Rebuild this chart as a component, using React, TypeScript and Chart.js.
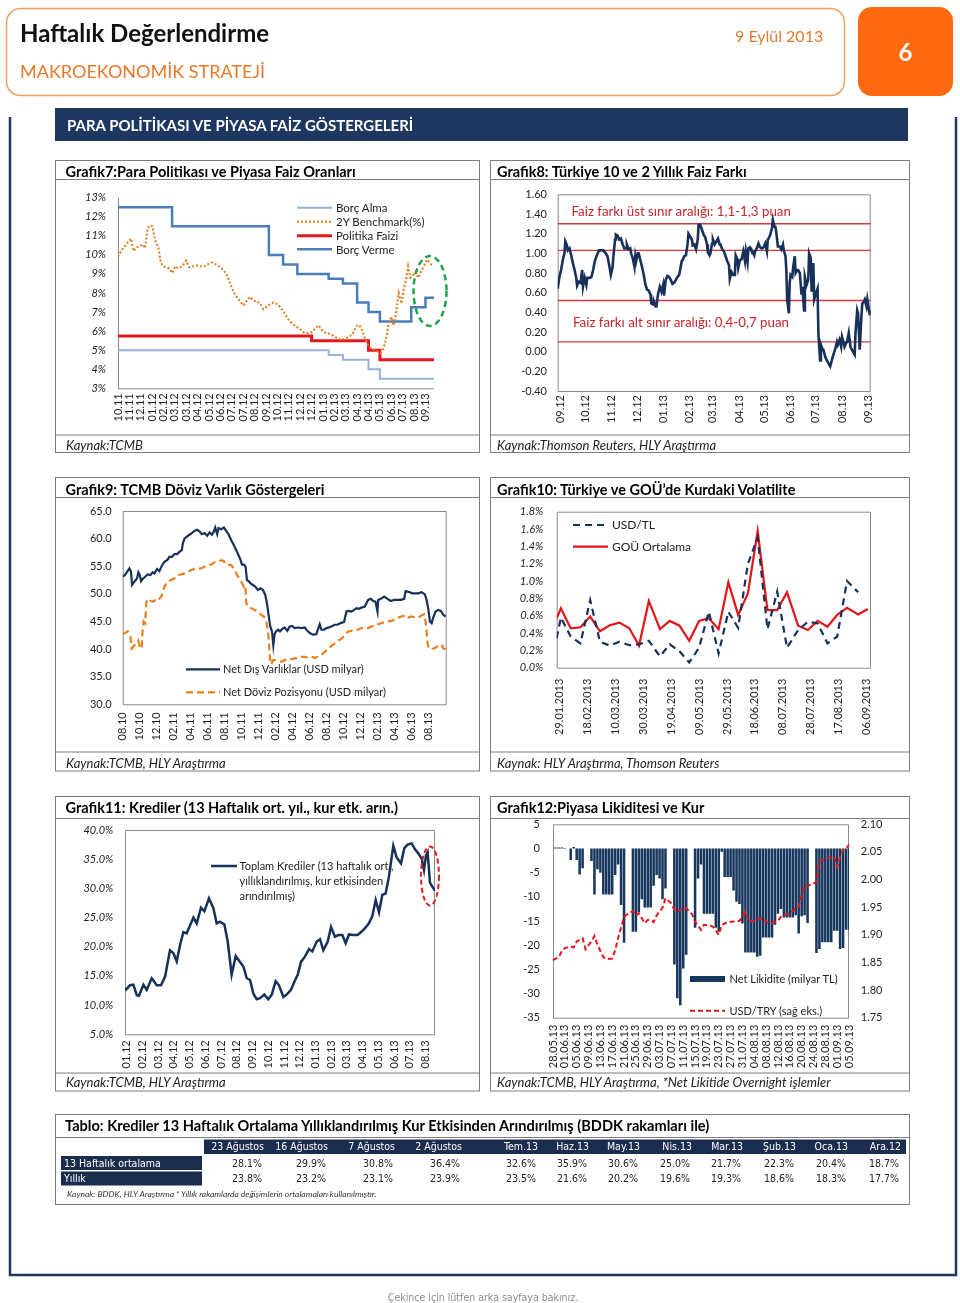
import React, { useEffect, useRef } from 'react';
import { Chart, registerables } from 'chart.js';
Chart.register(...registerables);

const FONT = 'Lato, "Noto Sans", sans-serif';
const NARROW = '"Liberation Sans Narrow", "DejaVu Sans Condensed", "Liberation Sans", sans-serif';
const PW = 960;

// ---------------- Grafik 7 ----------------
const g7Ticks = ['10.11','11.11','12.11','01.12','02.12','03.12','03.12','04.12','05.12','06.12','07.12','07.12','08.12','09.12','10.12','11.12','12.12','12.12','01.13','02.13','03.13','04.13','04.13','05.13','06.13','07.13','08.13','09.13'];
const g7WeeksPerTick = 4;
const g7LastWeek = 111;
const borcVermeWeeks = [0, 19, 53, 58, 63, 74, 79, 84, 88, 92, 103, 108, 111];
const borcVermeRates = [12.5, 11.5, 10, 9.5, 9, 8.75, 8.5, 7.5, 7, 6.5, 7.25, 7.75, 7.75];
const borcAlmaWeeks = [0, 74, 79, 88, 92, 111];
const borcAlmaRates = [5, 4.75, 4.5, 4, 3.5, 3.5];
const politikaWeeks = [0, 68, 88, 92, 111];
const politikaRates = [5.75, 5.5, 5, 4.5, 4.5];
const benchWeeks = [0,0.5,1.3,3.1,4.6,5.4,6.6,7.7,8.6,9.5,10.4,11.3,12.1,13,14.2,15.1,16.5,17.9,19.1,20.1,21.2,22.6,23.9,25,26.5,27.7,28.8,30.3,31.5,33,34.4,35.9,37.1,38.2,39.4,40.6,41.7,42.9,44.1,45.3,46.4,47.6,48.8,49.9,51.1,52.3,53.5,54.6,56.2,57.3,58.7,59.9,61.1,62.5,64,65.5,66.7,68.1,69.3,70.5,71.6,73,74.6,76.3,78.1,79.8,81.6,82.8,83.9,84.8,85.7,86.9,88.1,89.2,90.4,92.2,93.3,94.3,95.1,96,96.8,97.7,98.6,99.6,100.4,101.2,101.9,102.7,103.5,104.5,105.4,106.2,107.4,108.6,109.7,110.6];
const benchRates = [9.9,10.05,10.25,10.6,10.85,10.2,10.4,10.45,10.55,10.35,11.4,11.55,11.5,10.8,10.35,9.55,9.35,9.3,9.05,9.4,9.3,9.4,9.7,9.35,9.4,9.45,9.4,9.4,9.5,9.6,9.5,9.35,9.2,8.95,8.5,8.05,7.8,7.55,7.35,7.6,7.8,7.6,7.55,7.45,7.15,7.3,7.4,7.5,7.4,7.2,6.9,6.6,6.4,6.25,6.1,5.9,5.9,5.95,6.15,6.3,6.05,5.9,5.85,5.7,5.55,5.6,5.75,5.95,6.3,6.3,6.05,5.55,5.2,5.05,5.0,4.85,5.1,5.7,6.4,6.75,6.3,6.95,8.0,7.45,8.25,8.7,9.4,8.8,8.9,9.1,8.8,9.05,9.4,9.75,9.55,9.4];

// ---------------- Grafik 8 ----------------
const g8Ticks = ['09.12','10.12','11.12','12.12','01.13','02.13','03.13','04.13','05.13','06.13','07.13','08.13','09.13'];
const g8TickDays = [0, 30, 61, 91, 122, 153, 181, 212, 242, 273, 303, 334, 365];
const g8Bands = [1.30, 1.03, 0.52, 0.10];
const g8Spread: [number, number][] = [[-3,0.64],[-1,0.76],[1,0.83],[3,0.93],[5,1.0],[6,1.12],[8,1.08],[9,1.03],[11,1.05],[13,0.98],[15,0.9],[17,0.83],[19,0.75],[20,0.67],[22,0.71],[24,0.7],[26,0.83],[27,0.66],[29,0.75],[31,0.68],[32,0.75],[35,0.75],[37,0.76],[39,0.83],[41,0.92],[43,0.97],[46,1.03],[49,1.03],[51,1.03],[54,1.0],[56,0.97],[58,0.88],[60,0.78],[62,0.86],[63,0.97],[65,1.14],[66,1.19],[68,1.18],[70,1.14],[72,1.15],[74,1.09],[76,1.05],[78,1.05],[79,1.09],[81,1.04],[83,1.05],[84,1.0],[86,0.95],[88,0.86],[89,0.97],[90,0.92],[92,1.0],[93,1.0],[95,0.93],[97,0.86],[99,0.78],[101,0.68],[103,0.63],[105,0.62],[107,0.58],[108,0.49],[110,0.48],[111,0.51],[113,0.46],[114,0.46],[116,0.59],[118,0.66],[120,0.61],[122,0.68],[123,0.57],[125,0.73],[127,0.77],[129,0.76],[131,0.73],[133,0.69],[135,0.7],[137,0.73],[139,0.76],[141,0.78],[144,0.92],[145,0.93],[147,0.97],[149,0.98],[151,1.1],[152,1.2],[154,1.17],[156,1.14],[157,1.08],[159,1.09],[161,1.04],[163,1.14],[164,1.29],[166,1.29],[168,1.24],[170,1.19],[172,1.16],[174,1.09],[175,1.01],[177,0.98],[178,1.0],[180,1.1],[181,1.14],[183,1.09],[185,1.12],[187,1.15],[189,1.09],[190,1.09],[192,1.04],[194,1.02],[196,0.97],[198,0.92],[200,0.88],[201,0.74],[203,0.81],[205,0.78],[207,0.78],[208,0.98],[210,0.94],[211,0.85],[213,0.93],[215,0.94],[217,1.02],[219,0.92],[220,1.02],[222,0.91],[223,1.05],[225,1.06],[226,1.04],[228,1.02],[230,0.98],[231,1.02],[233,1.05],[235,1.1],[237,1.06],[239,1.05],[241,1.06],[243,1.1],[245,1.02],[246,1.14],[247,1.15],[249,1.19],[251,1.26],[252,1.34],[254,1.27],[255,1.27],[256,1.22],[258,1.07],[260,1.07],[262,1.04],[264,1.09],[265,1.03],[267,0.97],[268,0.83],[269,0.53],[271,0.39],[272,0.7],[273,0.78],[275,0.76],[276,0.85],[278,0.97],[279,0.8],[281,0.83],[282,0.83],[284,0.8],[286,0.58],[287,0.66],[289,0.42],[290,0.76],[292,0.68],[294,0.73],[295,1.0],[297,0.95],[298,0.61],[300,0.9],[301,0.53],[303,0.59],[305,0.64],[306,0.19],[308,-0.09],[309,0.07],[311,0.02],[312,0.02],[314,-0.05],[316,-0.09],[318,-0.12],[320,-0.15],[321,-0.12],[323,-0.05],[325,0.0],[326,0.03],[328,0.1],[329,0.07],[331,0.12],[333,0.05],[334,0.15],[336,0.09],[337,0.05],[339,0.09],[340,0.1],[342,0.19],[344,0.05],[345,0.03],[347,0.0],[349,-0.03],[350,0.19],[352,0.42],[353,0.39],[355,0.02],[357,0.36],[358,0.49],[360,0.51],[361,0.53],[363,0.46],[364,0.53],[366,0.42],[367,0.37]];

// ---------------- Grafik 9 ----------------
const g9Ticks = ['08.10','10.10','12.10','02.11','04.11','06.11','08.11','10.11','12.11','02.12','04.12','06.12','08.12','10.12','12.12','02.13','04.13','06.13','08.13'];
const g9MonthsPerTick = 2;
const netDisVarlik: [number, number][] = [[0,53.1],[0.28,53.4],[0.51,54.0],[0.79,54.6],[0.98,54.0],[1.10,51.6],[1.38,52.2],[1.69,52.8],[1.85,53.9],[2.01,53.4],[2.17,52.3],[2.36,52.7],[2.64,53.1],[2.95,53.5],[3.27,53.4],[3.54,53.9],[3.74,53.7],[4.06,54.5],[4.33,54.1],[4.61,55.1],[4.92,55.8],[5.24,56.1],[5.51,56.7],[5.79,56.7],[6.10,57.2],[6.42,57.2],[6.69,57.6],[6.97,57.9],[7.09,59.1],[7.28,60.0],[7.60,60.4],[7.87,60.7],[8.15,61.0],[8.46,61.4],[8.78,61.6],[9.06,61.3],[9.33,60.8],[9.65,61.0],[9.96,60.5],[10.24,61.1],[10.51,60.7],[10.75,61.3],[10.91,62.0],[11.14,60.8],[11.30,61.9],[11.61,61.7],[11.93,62.0],[12.20,61.4],[12.48,60.8],[12.80,59.7],[13.11,58.8],[13.39,57.9],[13.66,57.0],[13.90,56.1],[14.06,55.3],[14.29,55.3],[14.49,54.9],[14.65,52.5],[14.84,52.3],[15.08,51.9],[15.35,51.6],[15.63,51.3],[15.94,50.7],[16.26,51.0],[16.54,50.7],[16.81,49.8],[17.01,48.3],[17.20,46.2],[17.40,44.1],[17.60,43.2],[17.76,40.7],[17.91,42.7],[18.07,43.2],[18.31,43.5],[18.54,43.2],[18.78,43.6],[19.09,43.9],[19.41,43.3],[19.69,44.1],[19.96,44.2],[20.28,43.8],[20.67,43.9],[21.06,43.8],[21.46,43.9],[21.77,43.3],[22.05,42.9],[22.44,42.6],[22.83,42.7],[23.23,44.5],[23.43,43.5],[23.74,43.5],[24.02,43.8],[24.29,43.9],[24.61,44.1],[25.0,44.4],[25.31,44.4],[25.71,44.7],[26.10,44.9],[26.38,46.8],[26.65,46.9],[26.97,46.8],[27.28,47.1],[27.56,47.4],[27.83,47.3],[28.15,47.5],[28.54,47.7],[28.94,48.9],[29.25,49.1],[29.53,48.7],[29.80,48.6],[30.04,46.8],[30.12,48.9],[30.43,49.1],[30.83,49.5],[31.22,49.1],[31.61,48.7],[32.01,48.9],[32.40,48.9],[32.80,48.9],[33.19,49.1],[33.35,50.5],[33.58,50.4],[33.86,50.3],[34.13,50.1],[34.45,50.1],[34.84,50.1],[35.24,50.3],[35.63,49.9],[35.83,48.9],[36.02,47.4],[36.22,45.0],[36.42,44.7],[36.61,45.7],[36.89,46.8],[37.20,47.1],[37.52,46.9],[37.80,46.2],[38.07,45.9]];
const netDovizPoz: [number, number][] = [[0,42.7],[0.28,42.9],[0.59,43.2],[0.91,42.2],[1.06,40.1],[1.38,40.7],[1.69,41.0],[1.85,41.5],[2.01,40.4],[2.24,40.1],[2.36,43.8],[2.48,45.0],[2.64,44.7],[2.80,48.6],[3.03,49.1],[3.35,48.7],[3.66,48.6],[3.94,49.1],[4.21,48.9],[4.53,49.5],[4.72,50.1],[4.92,51.3],[5.31,52.3],[5.71,52.5],[6.10,52.8],[6.50,53.4],[6.89,53.5],[7.28,53.7],[7.68,54.0],[8.07,54.3],[8.46,54.5],[8.86,54.6],[9.25,54.6],[9.65,54.9],[10.04,55.2],[10.43,55.3],[10.83,55.7],[11.22,55.8],[11.61,56.1],[11.93,55.9],[12.20,55.3],[12.48,55.3],[12.80,55.2],[13.19,54.3],[13.50,53.4],[13.78,52.7],[13.98,52.2],[14.17,51.6],[14.29,51.3],[14.45,51.6],[14.57,48.3],[14.76,47.7],[15.16,47.4],[15.55,47.1],[15.94,46.7],[16.34,46.2],[16.65,45.9],[16.93,45.0],[17.13,43.2],[17.24,41.3],[17.36,38.3],[17.52,37.2],[17.72,38.0],[17.91,38.0],[18.31,37.8],[18.70,37.7],[19.09,38.0],[19.49,38.2],[19.88,38.2],[20.28,38.3],[20.67,38.4],[21.06,38.6],[21.46,38.6],[21.85,38.4],[22.24,38.6],[22.64,38.4],[23.03,38.6],[23.43,38.9],[23.82,39.5],[24.21,40.0],[24.61,40.6],[25.0,41.0],[25.39,41.5],[25.79,41.9],[26.18,42.5],[26.57,43.2],[26.97,43.3],[27.36,43.5],[27.76,43.5],[28.15,43.8],[28.54,43.8],[28.94,43.8],[29.33,44.1],[29.72,44.2],[30.12,44.5],[30.51,44.7],[30.91,44.9],[31.30,45.0],[31.69,45.1],[32.09,45.4],[32.48,45.7],[32.87,45.9],[33.27,46.1],[33.66,45.7],[34.06,45.9],[34.45,45.7],[34.84,45.7],[35.24,46.1],[35.55,46.3],[35.71,45.0],[35.83,43.3],[35.94,41.0],[36.10,40.1],[36.42,40.0],[36.81,40.2],[37.20,40.6],[37.60,40.8],[37.80,40.1],[38.07,40.0]];

// ---------------- Grafik 10 ----------------
const g10Ticks = ['29.01.2013','18.02.2013','10.03.2013','30.03.2013','19.04.2013','09.05.2013','29.05.2013','18.06.2013','08.07.2013','28.07.2013','17.08.2013','06.09.2013'];
const g10DaysPerTick = 20;
const volDays = [-2,1,8,15,22,29,36,43,50,57,64,72,79,86,93,100,107,114,121,128,135,142,149,156,163,171,178,185,192,199,206,214,221];
const gouVol = [0.57,0.685,0.455,0.466,0.59,0.42,0.49,0.52,0.455,0.255,0.77,0.445,0.54,0.485,0.31,0.54,0.57,0.445,0.985,0.61,0.857,1.577,0.665,0.665,0.87,0.485,0.435,0.54,0.473,0.61,0.69,0.615,0.677];
const usdTlVol = [0.34,0.58,0.36,0.28,0.78,0.30,0.255,0.30,0.26,0.27,0.31,0.13,0.27,0.19,0.06,0.23,0.645,0.165,0.645,0.46,1.2,1.5,0.445,0.877,0.23,0.435,0.53,0.51,0.28,0.36,1.0,0.87,null];

// ---------------- Grafik 11 ----------------
const g11Ticks = ['01.12','02.12','03.12','04.12','05.12','06.12','07.12','08.12','09.12','10.12','11.12','12.12','01.13','02.13','03.13','04.13','05.13','06.13','07.13','08.13'];
const krediler: [number, number][] = [[-0.11,12.5],[0.21,13.4],[0.42,13.5],[0.64,11.7],[0.78,11.6],[1.06,13.5],[1.27,12.6],[1.59,14.6],[1.91,13.4],[2.18,13.4],[2.44,14.9],[2.75,19.4],[2.97,18.9],[3.18,17.5],[3.39,20.3],[3.60,22.5],[3.81,22.3],[4.03,23.7],[4.24,25.0],[4.45,24.0],[4.72,26.7],[4.94,26.1],[5.23,28.3],[5.51,26.6],[5.72,24.0],[5.93,24.3],[6.21,23.8],[6.42,20.9],[6.67,15.2],[6.93,18.4],[7.20,17.4],[7.42,16.6],[7.63,14.6],[7.84,14.3],[8.05,12.0],[8.26,11.0],[8.47,11.2],[8.75,11.8],[9.00,11.0],[9.22,11.8],[9.47,14.1],[9.68,13.4],[9.96,11.4],[10.17,11.8],[10.44,12.6],[10.66,14.0],[10.87,15.2],[11.08,17.4],[11.33,18.3],[11.59,19.6],[11.80,19.2],[12.08,20.9],[12.29,21.3],[12.50,19.4],[12.78,20.9],[12.99,23.4],[13.24,21.7],[13.45,22.0],[13.71,22.0],[13.92,20.6],[14.13,22.1],[14.41,22.0],[14.68,22.0],[14.94,22.6],[15.19,23.3],[15.40,24.0],[15.61,25.2],[15.83,28.0],[16.04,25.9],[16.25,28.9],[16.46,29.1],[16.67,32.0],[16.95,37.3],[17.16,35.3],[17.44,34.3],[17.65,36.9],[17.86,37.5],[18.11,37.7],[18.33,36.7],[18.54,36.0],[18.75,35.1],[18.90,33.1],[19.03,35.7],[19.13,36.2],[19.28,31.0],[19.43,30.3],[19.60,29.6]];

// ---------------- Grafik 12 ----------------
const g12Ticks = ['28.05.13','01.06.13','05.06.13','09.06.13','13.06.13','17.06.13','21.06.13','25.06.13','29.06.13','03.07.13','07.07.13','11.07.13','15.07.13','19.07.13','23.07.13','27.07.13','31.07.13','04.08.13','08.08.13','12.08.13','16.08.13','20.08.13','24.08.13','28.08.13','01.09.13','05.09.13'];
const g12DaysPerTick = 4;
const netLikidite = [0.2,0.2,0.2,0.2,0.1,0,-2.4,0.3,-2.4,-5.4,-4.1,0,0,-2.6,-9.5,-4.3,-5.0,-9.5,-9.5,-9.5,-9.5,-5.5,-3.3,-11.7,-19.5,0,0,-17.2,-17.2,-13.2,-10.5,-12.2,-12.2,-12.2,-7.7,-5.5,-6.2,-10.5,-8.3,0,0,-24,-31,-32.4,-24.8,-22,0,0,-16.4,-6.2,-3.3,-13.5,-13.5,-13.5,-13.5,-16.4,-17.2,-0.7,-5.9,-5.9,-5.9,-8.7,-11,-11.5,-15.5,-21.5,-21.5,-21.5,-21.5,-22.4,-22.2,-18.4,-18.4,-18.4,-18.4,-15.8,-13.5,-12.5,-14.3,-14.3,-14.3,-14.3,-13.8,-17.6,-14,-13.8,-15.4,0,0,-21.6,-20.8,-19.4,-19.4,-19.4,-19.4,-17,-17,-20.8,-20.6,-16.8,-16.8];
const usdTryDays = [0,2,3,4,6,7,8,10,11,13,14,15,17,18,20,21,22,24,25,27,28,29,31,32,33,34,35,36,37,38,40,41,42,44,45,47,48,50,51,53,54,56,57,59,61,62,63,65,66,68,69,71,72,73,74,76,77,79,81,82,83,84,85,87,89,90,92,94,95,96,97,98,99,100];
const usdTry = [1.854,1.860,1.871,1.876,1.879,1.877,1.888,1.894,1.874,1.888,1.898,1.882,1.860,1.856,1.857,1.872,1.894,1.933,1.937,1.943,1.935,1.939,1.921,1.927,1.927,1.923,1.935,1.942,1.949,1.966,1.957,1.945,1.942,1.949,1.948,1.937,1.924,1.909,1.918,1.917,1.915,1.900,1.918,1.923,1.924,1.925,1.925,1.942,1.925,1.925,1.927,1.930,1.924,1.921,1.921,1.925,1.933,1.937,1.943,1.949,1.951,1.972,1.989,1.990,1.996,2.032,2.038,2.040,2.041,2.023,2.041,2.053,2.056,2.063];

// ---------------- Table ----------------
const tableCols = ['23 Ağustos','16 Ağustos','7 Ağustos','2 Ağustos','Tem.13','Haz.13','May.13','Nis.13','Mar.13','Şub.13','Oca.13','Ara.12'];
const row13Haftalik = ['28.1%','29.9%','30.8%','36.4%','32.6%','35.9%','30.6%','25.0%','21.7%','22.3%','20.4%','18.7%'];
const rowYillik = ['23.8%','23.2%','23.1%','23.9%','23.5%','21.6%','20.2%','19.6%','19.3%','18.6%','18.3%','17.7%'];

// ---------------- helpers ----------------
const zipXY = (xs: number[], ys: (number | null)[]) => xs.map((x, i) => ({ x, y: ys[i] }));
const pairsXY = (p: [number, number][]) => p.map(([x, y]) => ({ x, y }));

const framePlugin = {
  id: 'frame',
  beforeDatasetsDraw(chart: any, _a: any, opts: any) {
    const { ctx, chartArea: a } = chart;
    ctx.save();
    ctx.strokeStyle = opts.color || '#8a8a8a';
    ctx.lineWidth = 1;
    ctx.beginPath();
    if (opts.mode === 'lb') {
      ctx.moveTo(a.left + 0.5, a.top);
      ctx.lineTo(a.left + 0.5, a.bottom + 0.5);
      ctx.lineTo(a.right, a.bottom + 0.5);
    } else {
      ctx.rect(a.left + 0.5, a.top + 0.5, a.right - a.left - 1, a.bottom - a.top);
    }
    ctx.stroke();
    ctx.restore();
  },
};

const TICK_COLOR = '#1e1e1e';

function linX(min: number, max: number, ticks: number[], labels: string[], pad: number) {
  return {
    type: 'linear', min, max,
    grid: { display: false, drawTicks: false }, border: { display: false },
    afterBuildTicks: (s: any) => { s.ticks = ticks.map((v) => ({ value: v })); },
    ticks: { autoSkip: false, minRotation: 90, maxRotation: 90, padding: pad, color: TICK_COLOR, font: { family: FONT, size: 11 }, callback: (_v: any, i: number) => labels[i] },
  };
}

function linY(min: number, max: number, step: number, pad: number, fmt: (v: number) => string, italic = false, position = 'left') {
  return {
    type: 'linear', position, min, max,
    grid: { display: false, drawTicks: false }, border: { display: false },
    ticks: { stepSize: step, autoSkip: false, padding: pad, color: TICK_COLOR, font: { family: FONT, size: 11, style: italic ? 'italic' : 'normal' }, callback: (v: number) => fmt(v) },
  };
}

function baseOptions(o: { w: number; h: number; l: number; t: number; r: number; b: number; x: any; y: any; y2?: any; frame: string }) {
  const scales: any = {
    x: { ...o.x, afterFit: (s: any) => { s.height = o.h - o.b; s.paddingLeft = 0; s.paddingRight = 0; } },
    y: { ...o.y, afterFit: (s: any) => { s.width = o.l; s.paddingTop = 0; s.paddingBottom = 0; } },
  };
  if (o.y2) scales.y2 = { ...o.y2, afterFit: (s: any) => { s.width = o.w - o.r; s.paddingTop = 0; s.paddingBottom = 0; } };
  return {
    responsive: false, animation: false, devicePixelRatio: 1,
    layout: { padding: { left: 0, top: o.t, right: o.y2 ? 0 : o.w - o.r, bottom: 0 } },
    plugins: { legend: { display: false }, tooltip: { enabled: false }, frame: { mode: o.frame } },
    elements: { point: { radius: 0 }, line: { tension: 0 } },
    scales,
  };
}

const line = (data: any, color: string, width: number, extra: any = {}) => ({ type: 'line', data, borderColor: color, backgroundColor: color, borderWidth: width, pointRadius: 0, fill: false, ...extra });

// ---------------- chart configs ----------------
function cfg7(w: number, h: number) {
  const tickVals = g7Ticks.map((_, i) => i * g7WeeksPerTick);
  return {
    type: 'line',
    data: { datasets: [
      line(zipXY(benchWeeks, benchRates), '#E07B1F', 2, { borderDash: [2, 2] }),
      line(zipXY(borcVermeWeeks, borcVermeRates), '#4A7EBB', 2.5, { stepped: true }),
      line(zipXY(politikaWeeks, politikaRates), '#E3181C', 3, { stepped: true }),
      line(zipXY(borcAlmaWeeks, borcAlmaRates), '#95B3D7', 2, { stepped: true }),
    ] },
    options: baseOptions({ w, h, l: 62, t: 16.7, r: w - 45, b: h - 45.7, frame: 'lb',
      x: linX(0, g7LastWeek, tickVals, g7Ticks, 5),
      y: linY(3, 13, 1, 12, (v) => v.toFixed(0) + '%', true) }),
    plugins: [framePlugin],
  };
}

function cfg8(w: number, h: number) {
  const xMin = -3, xMax = 368;
  return {
    type: 'line',
    data: { datasets: [
      line(pairsXY(g8Spread), '#17315A', 2.6),
      ...g8Bands.map((v) => line([{ x: xMin, y: v }, { x: xMax, y: v }], '#D9363E', 1.4)),
    ] },
    options: baseOptions({ w, h, l: 66.7, t: 13.3, r: w - 38.3, b: h - 43, frame: 'box',
      x: linX(xMin, xMax, g8TickDays, g8Ticks, 4),
      y: linY(-0.4, 1.6, 0.2, 10.7, (v) => v.toFixed(2)) }),
    plugins: [framePlugin],
  };
}

function cfg9(w: number, h: number) {
  const tickVals = g9Ticks.map((_, i) => i * g9MonthsPerTick);
  return {
    type: 'line',
    data: { datasets: [
      line(pairsXY(netDisVarlik), '#17315A', 2.2),
      line(pairsXY(netDovizPoz), '#E8801E', 2.2, { borderDash: [7, 4] }),
    ] },
    options: baseOptions({ w, h, l: 66.7, t: 12, r: w - 32.3, b: h - 46.7, frame: 'box',
      x: linX(0, 38.2, tickVals, g9Ticks, 8),
      y: linY(30, 65, 5, 11, (v) => v.toFixed(1)) }),
    plugins: [framePlugin],
  };
}

function cfg10(w: number, h: number) {
  const tickVals = g10Ticks.map((_, i) => i * g10DaysPerTick);
  return {
    type: 'line',
    data: { datasets: [
      line(zipXY(volDays, usdTlVol), '#17315A', 2.2, { borderDash: [7, 5] }),
      line(zipXY(volDays, gouVol), '#E3151A', 2.2),
    ] },
    options: baseOptions({ w, h, l: 65.7, t: 12.7, r: w - 38, b: h - 84.3, frame: 'box',
      x: linX(-2, 223.2, tickVals, g10Ticks, 11),
      y: linY(0, 1.8, 0.2, 13.4, (v) => v.toFixed(1) + '%', true) }),
    plugins: [framePlugin],
  };
}

function cfg11(w: number, h: number) {
  const tickVals = g11Ticks.map((_, i) => i);
  return {
    type: 'line',
    data: { datasets: [ line(pairsXY(krediler), '#17315A', 2.5) ] },
    options: baseOptions({ w, h, l: 69, t: 10, r: w - 44, b: h - 37.7, frame: 'box',
      x: linX(-0.11, 19.6, tickVals, g11Ticks, 6),
      y: linY(5, 40, 5, 11.7, (v) => v.toFixed(1) + '%', true) }),
    plugins: [framePlugin],
  };
}

function cfg12(w: number, h: number) {
  const days = netLikidite.map((_, i) => i);
  const usd: (number | null)[] = days.map(() => null);
  usdTryDays.forEach((d, i) => { usd[d] = usdTry[i]; });
  return {
    type: 'bar',
    data: {
      labels: days,
      datasets: [
        { type: 'line', data: usd, yAxisID: 'y2', borderColor: '#E8141B', borderWidth: 2, borderDash: [5, 3], pointRadius: 0, spanGaps: true, order: 0, fill: false },
        { type: 'bar', data: netLikidite, yAxisID: 'y', backgroundColor: '#17375E', borderWidth: 0, categoryPercentage: 1, barPercentage: 0.86, order: 1 },
      ],
    },
    options: baseOptions({ w, h, l: 62, t: 6.3, r: w - 60, b: h - 54.3, frame: 'box',
      x: { type: 'category', offset: false, grid: { display: false, drawTicks: false }, border: { display: false },
        ticks: { autoSkip: false, minRotation: 90, maxRotation: 90, padding: 7, color: TICK_COLOR, font: { family: FONT, size: 11 },
          callback: (_v: any, i: number) => (i % g12DaysPerTick === 0 ? g12Ticks[i / g12DaysPerTick] : '') } },
      y: linY(-35, 5, 5, 13, (v) => v.toFixed(0)),
      y2: linY(1.75, 2.10, 0.05, 11.7, (v) => v.toFixed(2), false, 'right') }),
    plugins: [framePlugin],
  };
}

// ---------------- components ----------------
function ChartCanvas({ x, y, w, h, make }: { x: number; y: number; w: number; h: number; make: (w: number, h: number) => any }) {
  const ref = useRef<HTMLCanvasElement>(null);
  useEffect(() => {
    const chart = new Chart(ref.current as HTMLCanvasElement, make(w, h));
    return () => chart.destroy();
  }, []);
  return <canvas ref={ref} width={w} height={h} style={{ position: 'absolute', left: x, top: y, width: w, height: h }} />;
}

function Txt({ x, y, children, size = 12, weight = 400, italic = false, color = '#000', family = FONT, align = 'left' }: any) {
  const st: any = { position: 'absolute', top: y - size, height: size * 2, lineHeight: `${size * 2}px`, fontSize: size, fontWeight: weight, fontStyle: italic ? 'italic' : 'normal', color, fontFamily: family, whiteSpace: 'nowrap' };
  if (align === 'left') st.left = x;
  else if (align === 'right') st.right = PW - x;
  else { st.left = x - 300; st.width = 600; st.textAlign = 'center'; }
  return <div style={st}>{children}</div>;
}

const panels = [
  { x0: 55.5, x1: 479.5, y0: 160.5, u: 179.5, k: 435, y1: 452.5 },
  { x0: 490.5, x1: 909.5, y0: 160.5, u: 179.5, k: 435, y1: 452.5 },
  { x0: 55.5, x1: 479.5, y0: 477.5, u: 497.5, k: 752, y1: 771 },
  { x0: 490.5, x1: 909.5, y0: 477.5, u: 497.5, k: 752, y1: 771 },
  { x0: 55.5, x1: 479.5, y0: 796.5, u: 818.5, k: 1073, y1: 1091 },
  { x0: 490.5, x1: 909.5, y0: 796.5, u: 818.5, k: 1073, y1: 1091 },
];

const colRight = [262, 326, 393, 460, 536, 587, 638, 690, 741, 794, 846, 899];

export default function App() {
  const navy = '#1D3761';
  const orange = '#E8792B';
  const grayLine = '#7d7d7d';
  return (
    <div style={{ position: 'absolute', left: 0, top: 0, width: 960, height: 1303, background: '#fff', overflow: 'hidden' }}>
      <svg width={960} height={1303} style={{ position: 'absolute', left: 0, top: 0 }}>
        <rect x={6.5} y={8.5} width={838} height={87} rx={14} fill="#fff" stroke="#F0A062" strokeWidth={1.5} />
        <rect x={858} y={7} width={95} height={89} rx={14} fill="#FF6A10" />
        <rect x={55} y={108} width={853} height={33} fill={navy} />
        <line x1={10} y1={117} x2={10} y2={1276} stroke={navy} strokeWidth={2.5} />
        <line x1={956} y1={117} x2={956} y2={1276} stroke={navy} strokeWidth={2.5} />
        <line x1={9} y1={1275} x2={957} y2={1275} stroke={navy} strokeWidth={2.5} />
        {panels.map((p, i) => (
          <g key={i} stroke={grayLine} strokeWidth={1} fill="none">
            <rect x={p.x0} y={p.y0} width={p.x1 - p.x0} height={p.y1 - p.y0} />
            <line x1={p.x0} y1={p.u} x2={p.x1} y2={p.u} />
            <line x1={p.x0} y1={p.k} x2={p.x1} y2={p.k} />
          </g>
        ))}
        {/* table */}
        <rect x={55.5} y={1114.5} width={854} height={90} fill="none" stroke={grayLine} strokeWidth={1} />
        <line x1={55.5} y1={1137.5} x2={909.5} y2={1137.5} stroke={grayLine} strokeWidth={1} />
        <rect x={204} y={1139.5} width={702} height={14.5} fill="#1B2D4F" />
        <rect x={61} y={1156} width={141} height={14} fill="#1B2D4F" />
        <rect x={61} y={1171.5} width={141} height={14} fill="#1B2D4F" />
      </svg>

      <ChartCanvas x={56} y={181} w={423} h={253} make={cfg7} />
      <ChartCanvas x={491} y={181} w={418} h={253} make={cfg8} />
      <ChartCanvas x={56} y={499} w={423} h={252} make={cfg9} />
      <ChartCanvas x={491} y={499} w={418} h={253} make={cfg10} />
      <ChartCanvas x={56} y={820} w={423} h={252} make={cfg11} />
      <ChartCanvas x={491} y={818} w={418} h={254} make={cfg12} />

      <svg width={960} height={1303} style={{ position: 'absolute', left: 0, top: 0, pointerEvents: 'none' }}>
        {/* Grafik7 legend */}
        <line x1={297} y1={207.7} x2={332} y2={207.7} stroke="#95B3D7" strokeWidth={2} />
        <line x1={297} y1={221.7} x2={332} y2={221.7} stroke="#E07B1F" strokeWidth={2} strokeDasharray="2 2" />
        <line x1={297} y1={235.7} x2={332} y2={235.7} stroke="#E3181C" strokeWidth={3} />
        <line x1={297} y1={249.3} x2={332} y2={249.3} stroke="#4A7EBB" strokeWidth={2.5} />
        <ellipse cx={430} cy={291} rx={16.5} ry={35} fill="none" stroke="#1FA24A" strokeWidth={2.5} strokeDasharray="6 4" />
        {/* Grafik9 legend */}
        <line x1={186} y1={669.3} x2={220} y2={669.3} stroke="#17315A" strokeWidth={2.2} />
        <line x1={186} y1={692.3} x2={220} y2={692.3} stroke="#E8801E" strokeWidth={2.2} strokeDasharray="7 4" />
        {/* Grafik10 legend */}
        <line x1={573} y1={525} x2={608} y2={525} stroke="#17315A" strokeWidth={2.2} strokeDasharray="7 5" />
        <line x1={573} y1={546.7} x2={608} y2={546.7} stroke="#E3151A" strokeWidth={2.2} />
        {/* Grafik11 legend */}
        <line x1={211} y1={866} x2={237} y2={866} stroke="#17315A" strokeWidth={2.5} />
        <ellipse cx={430} cy={876} rx={9} ry={29.5} fill="none" stroke="#E02020" strokeWidth={2} strokeDasharray="5 3" />
        {/* Grafik12 legend */}
        <rect x={690} y={976} width={35} height={6} fill="#17375E" />
        <line x1={690} y1={1010.7} x2={725} y2={1010.7} stroke="#E8141B" strokeWidth={2} strokeDasharray="5 3" />
      </svg>

      {/* header */}
      <Txt x={20} y={33} size={24} weight={700} color="#111">Haftalık Değerlendirme</Txt>
      <Txt x={20} y={71} size={18} color={orange}>MAKROEKONOMİK STRATEJİ</Txt>
      <Txt x={735} y={36} size={16} color={orange}>9 Eylül 2013</Txt>
      <Txt x={905.5} y={52} size={24} weight={700} color="#fff" align="center">6</Txt>
      <Txt x={67} y={124.5} size={15} weight={700} color="#fff">PARA POLİTİKASI VE PİYASA FAİZ GÖSTERGELERİ</Txt>

      {/* titles */}
      <Txt x={65.5} y={171} size={14.5} weight={700}>Grafik7:Para Politikası ve Piyasa Faiz Oranları</Txt>
      <Txt x={497} y={171} size={14.5} weight={700}>Grafik8: Türkiye 10 ve 2 Yıllık Faiz Farkı</Txt>
      <Txt x={65.5} y={489} size={14.5} weight={700}>Grafik9: TCMB Döviz Varlık Göstergeleri</Txt>
      <Txt x={497} y={489} size={14.5} weight={700}>Grafik10: Türkiye ve GOÜ’de Kurdaki Volatilite</Txt>
      <Txt x={65.5} y={807} size={14.5} weight={700}>Grafik11: Krediler (13 Haftalık ort. yıl., kur etk. arın.)</Txt>
      <Txt x={497} y={807} size={14.5} weight={700}>Grafik12:Piyasa Likiditesi ve Kur</Txt>

      {/* sources */}
      <Txt x={66} y={445} size={13} italic color="#222">Kaynak:TCMB</Txt>
      <Txt x={497} y={445} size={13} italic color="#222">Kaynak:Thomson Reuters, HLY Araştırma</Txt>
      <Txt x={66} y={762.5} size={13} italic color="#222">Kaynak:TCMB, HLY Araştırma</Txt>
      <Txt x={497} y={762.5} size={13} italic color="#222">Kaynak: HLY Araştırma, Thomson Reuters</Txt>
      <Txt x={66} y={1081.5} size={13} italic color="#222">Kaynak:TCMB, HLY Araştırma</Txt>
      <Txt x={497} y={1081.5} size={13} italic color="#222">Kaynak:TCMB, HLY Araştırma, *Net Likitide Overnight işlemler</Txt>

      {/* legends & annotations */}
      <Txt x={336} y={207.7} size={11.5} color="#222">Borç Alma</Txt>
      <Txt x={336} y={221.7} size={11.5} color="#222">2Y Benchmark(%)</Txt>
      <Txt x={336} y={235.7} size={11.5} color="#222">Politika Faizi</Txt>
      <Txt x={336} y={249.3} size={11.5} color="#222">Borç Verme</Txt>

      <Txt x={571.5} y={211.7} size={13.3} color="#C8242C">Faiz farkı üst sınır aralığı: 1,1-1,3 puan</Txt>
      <Txt x={573} y={322.7} size={13.3} color="#C8242C">Faiz farkı alt sınır aralığı: 0,4-0,7 puan</Txt>

      <Txt x={223} y={669.3} size={11} color="#222">Net Dış Varlıklar (USD milyar)</Txt>
      <Txt x={223} y={692.3} size={11} color="#222">Net Döviz Pozisyonu (USD milyar)</Txt>

      <Txt x={612} y={525} size={12} color="#222">USD/TL</Txt>
      <Txt x={612} y={546.7} size={12} color="#222">GOÜ Ortalama</Txt>

      <Txt x={239.5} y={866} size={11} color="#222">Toplam Krediler (13 haftalık ort.,</Txt>
      <Txt x={239.5} y={881} size={11} color="#222">yıllıklandırılmış, kur etkisinden</Txt>
      <Txt x={239.5} y={895.5} size={11} color="#222">arındırılmış)</Txt>

      <Txt x={729.5} y={979} size={11} color="#222">Net Likidite (milyar TL)</Txt>
      <Txt x={729.5} y={1010.5} size={11} color="#222">USD/TRY (sağ eks.)</Txt>

      {/* table */}
      <Txt x={65} y={1126} size={14.6} weight={700}>Tablo: Krediler 13 Haftalık Ortalama Yıllıklandırılmış Kur Etkisinden Arındırılmış (BDDK rakamları ile)</Txt>
      {tableCols.map((c, i) => (
        <Txt key={'h' + i} x={colRight[i] + 2} y={1146.8} size={10.5} family={NARROW} color="#fff" align="right">{c}</Txt>
      ))}
      <Txt x={64} y={1163} size={10.5} family={NARROW} color="#fff">13 Haftalık ortalama</Txt>
      <Txt x={64} y={1178.5} size={10.5} family={NARROW} color="#fff">Yıllık</Txt>
      {row13Haftalik.map((v, i) => (
        <Txt key={'a' + i} x={colRight[i]} y={1163} size={10.5} family={NARROW} color="#222" align="right">{v}</Txt>
      ))}
      {rowYillik.map((v, i) => (
        <Txt key={'b' + i} x={colRight[i]} y={1178.5} size={10.5} family={NARROW} color="#222" align="right">{v}</Txt>
      ))}
      <Txt x={67} y={1194.5} size={8.5} italic color="#333">Kaynak: BDDK, HLY Araştırma * Yıllık rakamlarda değişimlerin ortalamaları kullanılmıştır.</Txt>

      <Txt x={483} y={1297} size={10.5} family={NARROW} color="#8a8a8a" align="center">Çekince için lütfen arka sayfaya bakınız.</Txt>
    </div>
  );
}
